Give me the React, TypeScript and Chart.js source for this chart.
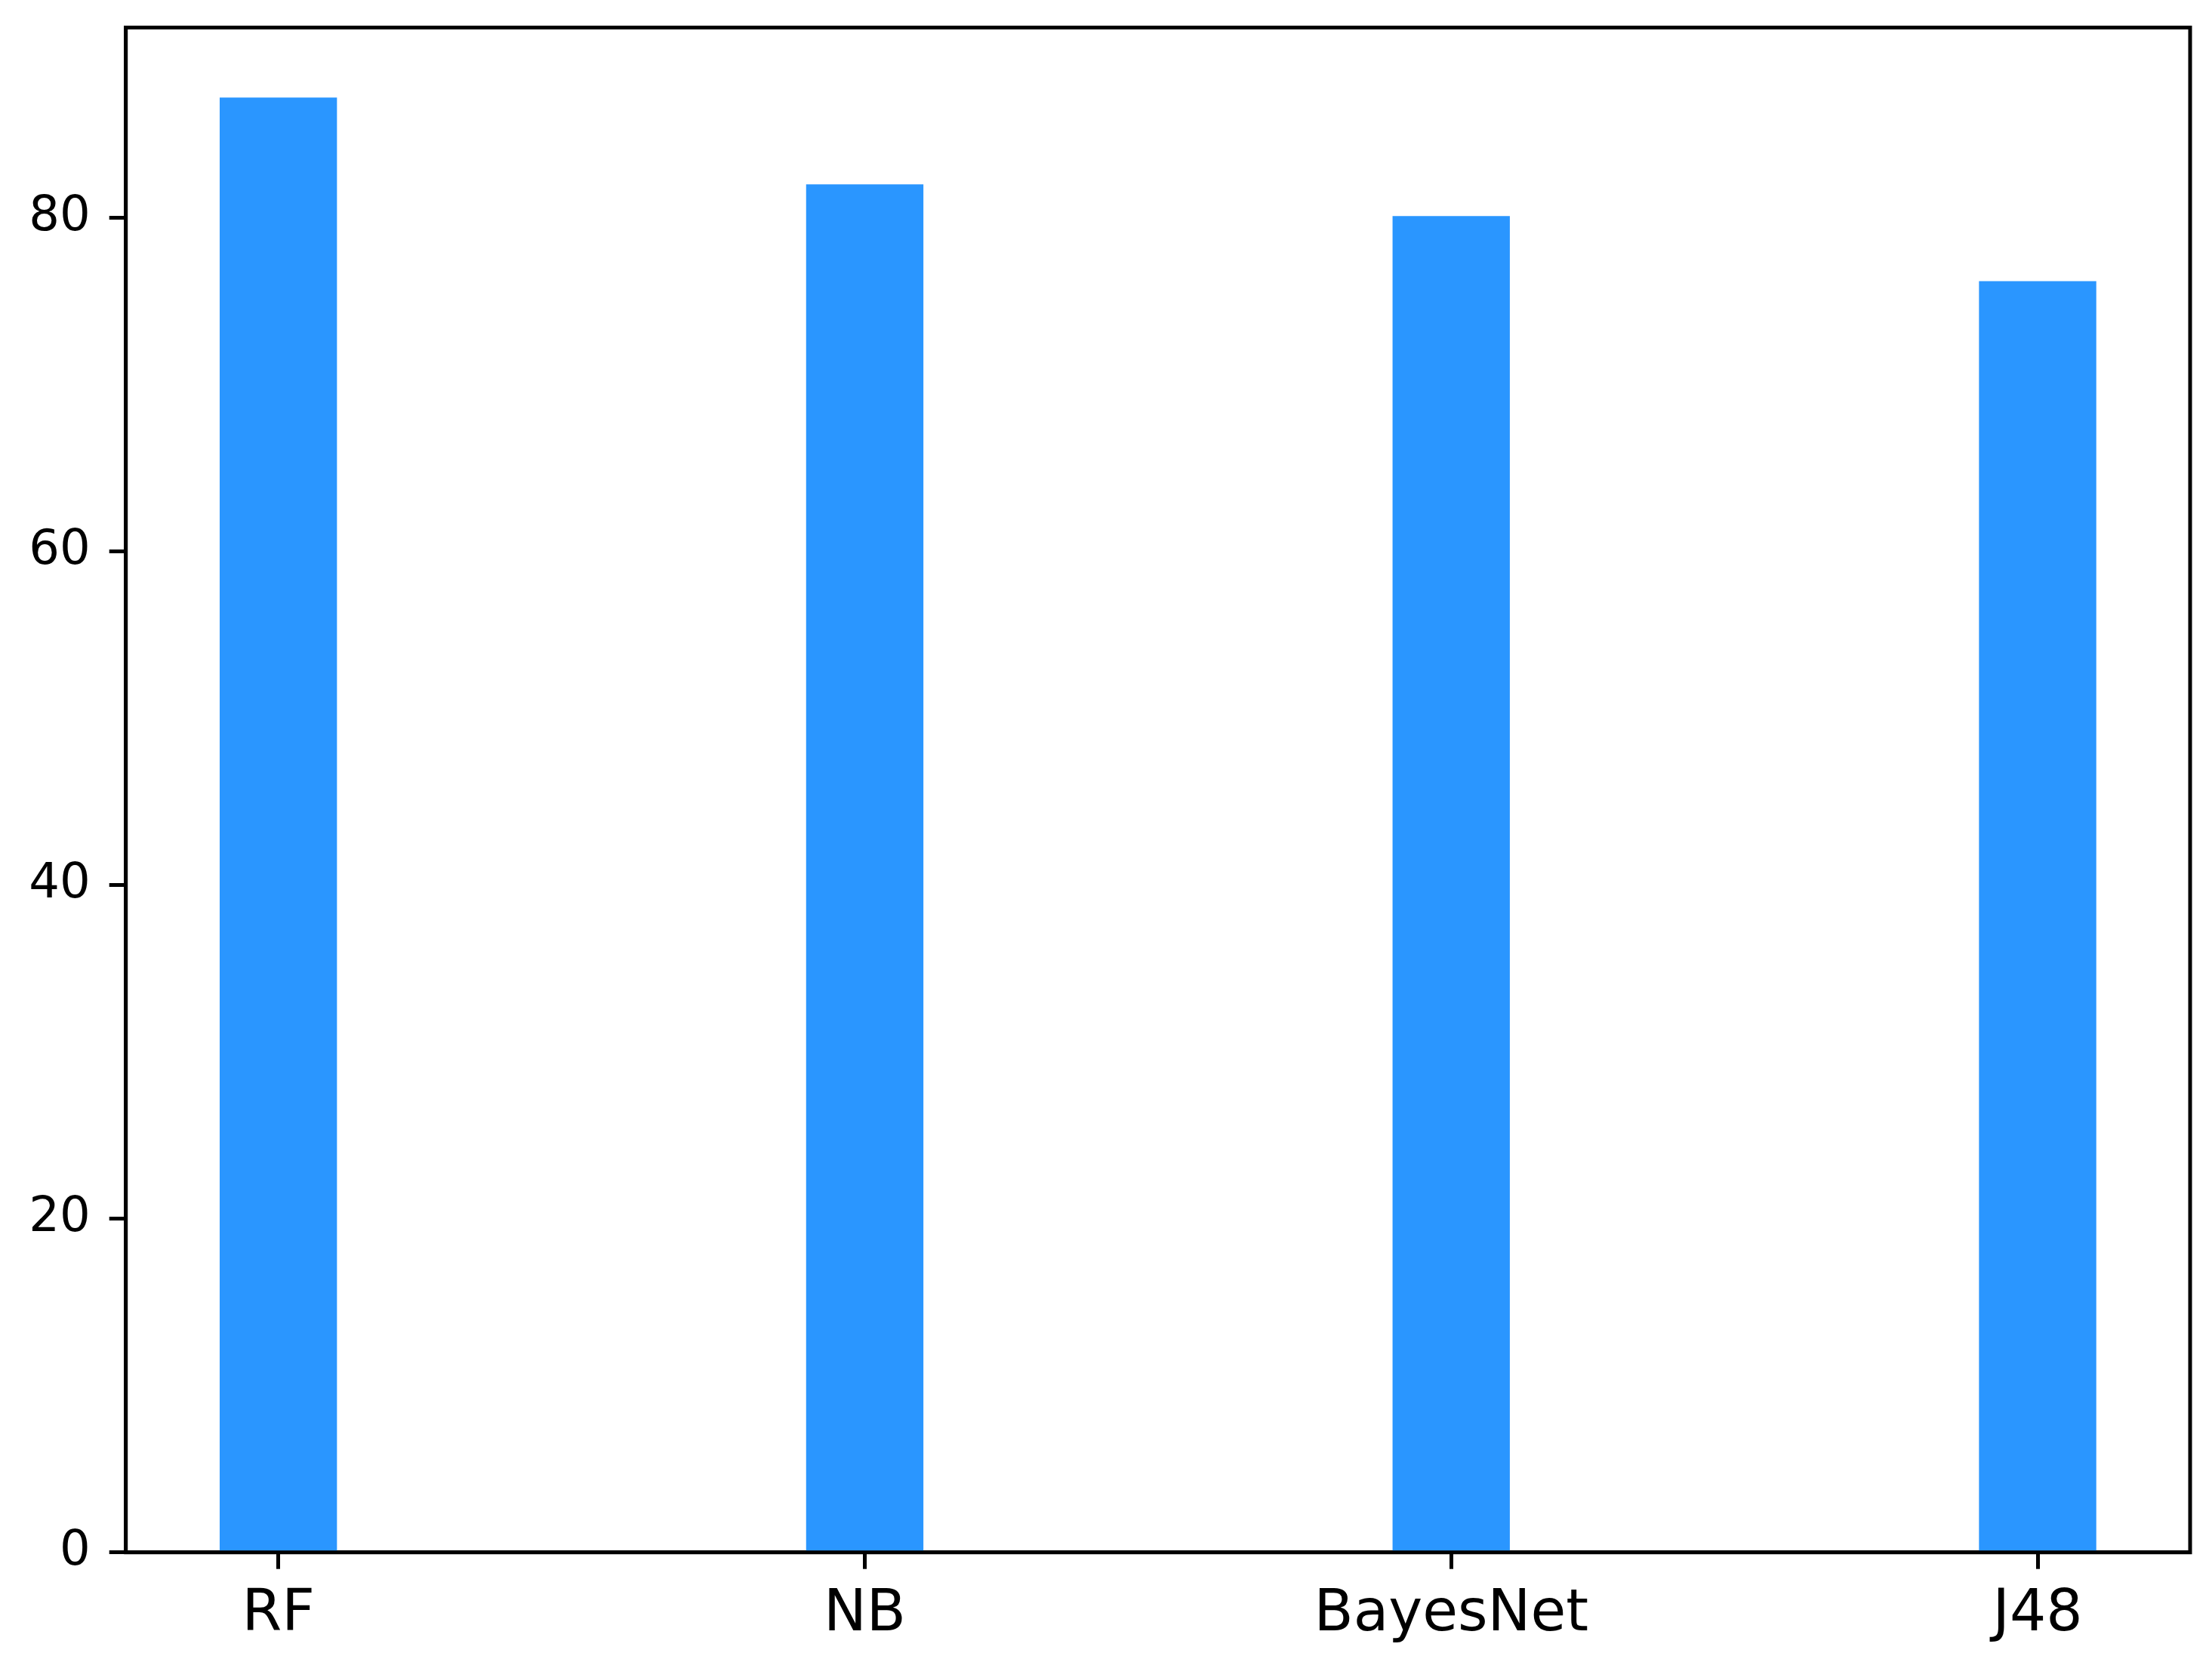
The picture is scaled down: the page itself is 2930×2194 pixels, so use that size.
import React, { useEffect, useRef } from "react";
import { Chart, registerables } from "chart.js";

Chart.register(...registerables);

const categories = ["RF", "NB", "BayesNet", "J48"];
const accuracy = [87.2, 82.0, 80.1, 76.2];
const yTicks = [0, 20, 40, 60, 80];

const W = 2930;
const H = 2194;

const framePlugin = {
  id: "frame",
  afterDatasetsDraw(chart: any) {
    const { ctx, chartArea } = chart;
    ctx.save();
    ctx.strokeStyle = "#000";
    ctx.lineWidth = 5;
    ctx.strokeRect(chartArea.left, chartArea.top, chartArea.right - chartArea.left, chartArea.bottom - chartArea.top);
    ctx.restore();
  },
};

export default function App() {
  const ref = useRef<HTMLCanvasElement>(null);
  useEffect(() => {
    const canvas = ref.current!;
    const chart = new Chart(canvas, {
      type: "bar",
      data: {
        datasets: [
          {
            data: categories.map((_, i) => ({ x: i, y: accuracy[i] })),
            backgroundColor: "#2a96ff",
            borderWidth: 0,
            barPercentage: 0.2,
            categoryPercentage: 1,
          },
        ],
      },
      options: {
        responsive: false,
        animation: false,
        devicePixelRatio: 1,
        layout: { padding: { left: 0, top: 36.5, right: 29, bottom: 0 } },
        plugins: { legend: { display: false }, tooltip: { enabled: false } },
        scales: {
          x: {
            type: "linear",
            min: -0.26,
            max: 3.26,
            offset: false,
            afterBuildTicks: (scale: any) => {
              scale.ticks = categories.map((_, i) => ({ value: i }));
            },
            afterFit: (scale: any) => {
              scale.height = 137.3;
              scale.paddingLeft = 0;
              scale.paddingRight = 0;
            },
            ticks: {
              autoSkip: false,
              maxRotation: 0,
              padding: 16,
              color: "#000",
              font: { family: "DejaVu Sans", size: 76 },
              callback: (v: any) => categories[v] ?? "",
            },
            grid: {
              offset: false,
              drawOnChartArea: false,
              drawTicks: true,
              tickLength: 22,
              tickWidth: 5,
              color: "#000",
            },
            border: { display: true, color: "#000", width: 5 },
          },
          y: {
            type: "linear",
            min: 0,
            max: 91.4,
            afterBuildTicks: (scale: any) => {
              scale.ticks = yTicks.map((v) => ({ value: v }));
            },
            afterFit: (scale: any) => {
              scale.width = 166.7;
              scale.paddingTop = 0;
              scale.paddingBottom = 0;
            },
            ticks: {
              padding: 25,
              color: "#000",
              font: { family: "DejaVu Sans", size: 64 },
              callback: (v: any) => String(v),
            },
            grid: {
              drawOnChartArea: false,
              drawTicks: true,
              tickLength: 22,
              tickWidth: 5,
              color: "#000",
            },
            border: { display: true, color: "#000", width: 5 },
          },
        },
      },
      plugins: [framePlugin],
    } as any);
    return () => chart.destroy();
  }, []);
  return (
    <div style={{ position: "fixed", left: 0, top: 0, width: W, height: H, background: "#fff" }}>
      <canvas ref={ref} width={W} height={H} style={{ width: W, height: H, display: "block" }} />
    </div>
  );
}
